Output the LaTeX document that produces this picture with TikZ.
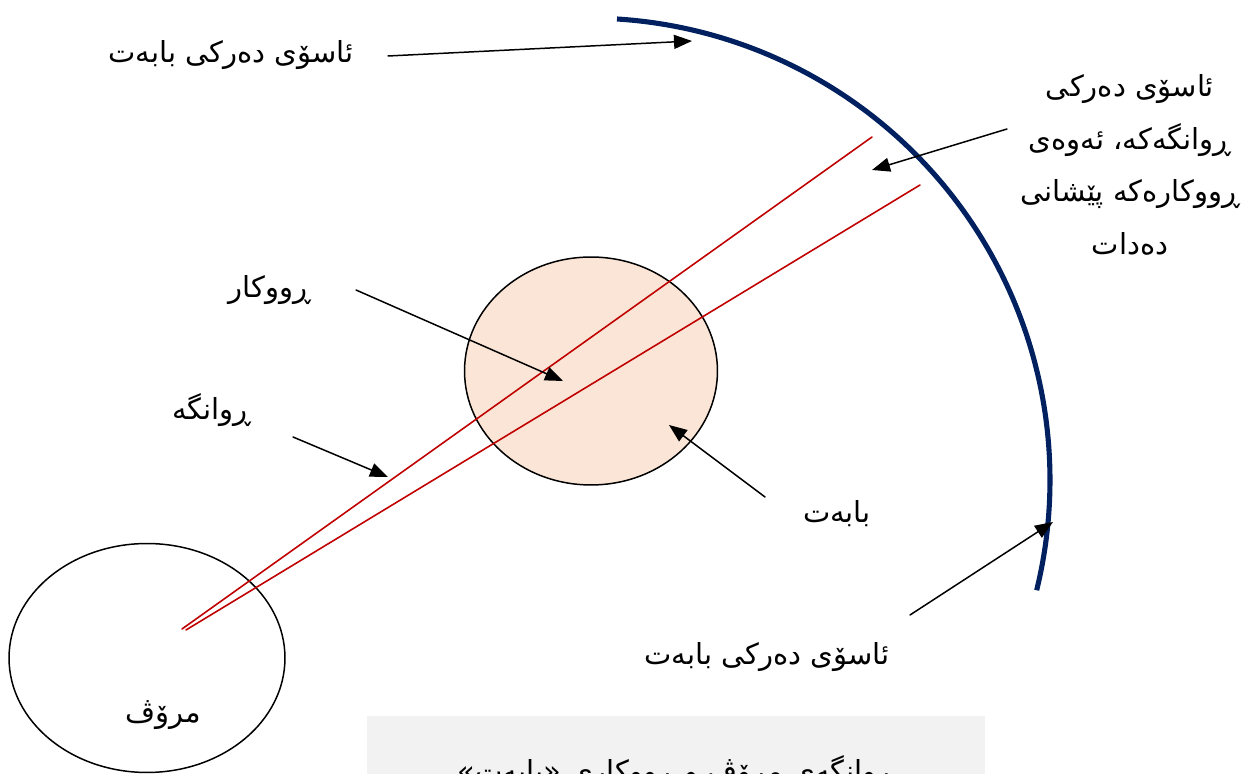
\documentclass[tikz,border=0pt]{standalone}
\usepackage{fontspec}
\usepackage{xcolor}
\newfontfamily\kufont[Script=Arabic]{DejaVu Sans}
\usetikzlibrary{arrows.meta,shapes.geometric}
\TeXXeTstate=1
\definecolor{navyarc}{RGB}{0,32,96}
\definecolor{raydark}{RGB}{192,0,0}
\definecolor{peach}{RGB}{251,229,214}
\definecolor{capgray}{RGB}{242,242,242}
\newcommand{\ku}[1]{\beginR #1\endR}

\begin{document}
\begin{tikzpicture}[x=0.02cm,y=0.02cm,line cap=round,
  lbl/.style={font=\kufont\fontsize{16.5}{30}\selectfont,inner sep=0pt,align=center},
  pointer/.style={-{Triangle[length=0.36cm,width=0.28cm]},line width=0.85pt},
  ray/.style={raydark,line width=0.9pt}]
  \clip (0,0) rectangle (1245,774);
  % caption strip
  \fill[capgray] (367,0) rectangle (985,58);
  \node[lbl] (caption) at (676,2) {\ku{^^^^0695وانگەی مرۆڤ و ^^^^0695ووکاری «بابەت»}};
  % object and human
  \node[ellipse,draw,fill=peach,line width=0.85pt,minimum width=5.06cm,minimum height=4.56cm] (object) at (591,403) {};
  \node[ellipse,draw,line width=0.85pt,minimum width=5.52cm,minimum height=4.58cm] (human) at (147,116) {};
  % horizon arc
  \draw[navyarc,line width=2.9pt,line cap=butt] (617,755) arc[start angle=86.4,end angle=-13.8,radius=462];
  % rays
  \coordinate (eyeA) at (182,145);
  \coordinate (eyeB) at (186,144);
  \coordinate (rayA) at (872,637);
  \coordinate (rayB) at (920,589);
  \draw[ray] (eyeA) -- (rayA);
  \draw[ray] (eyeB) -- (rayB);
  % labels
  \node[lbl] (outer) at (231,719) {\ku{ئاسۆی دەرکی بابەت}};
  \node[lbl] (view) at (1130,609) {\ku{ئاسۆی دەرکی}\\\ku{^^^^0695وانگەکە، ئەوەی}\\\ku{^^^^0695ووکارەکە پێشانی}\\\ku{دەدات}};
  \node[lbl] (surface) at (270,484) {\ku{^^^^0695ووکار}};
  \node[lbl] (sight) at (212,364) {\ku{^^^^0695وانگە}};
  \node[lbl] (thing) at (837,260) {\ku{بابەت}};
  \node[lbl] (outerB) at (767,117) {\ku{ئاسۆی دەرکی بابەت}};
  \node[lbl] (man) at (163,59) {\ku{مرۆڤ}};
  % arrows
  \coordinate (pA) at (388,718); \coordinate (tA) at (692,733);
  \coordinate (pB) at (1007,645); \coordinate (tB) at (872,604);
  \coordinate (pC) at (356,484); \coordinate (tC) at (563,393);
  \coordinate (pD) at (293,337); \coordinate (tD) at (388,297);
  \coordinate (pE) at (765,277); \coordinate (tE) at (669,349);
  \coordinate (pF) at (910,159); \coordinate (tF) at (1053,252);
  \draw[pointer] (pA) -- (tA);
  \draw[pointer] (pB) -- (tB);
  \draw[pointer] (pC) -- (tC);
  \draw[pointer] (pD) -- (tD);
  \draw[pointer] (pE) -- (tE);
  \draw[pointer] (pF) -- (tF);
\end{tikzpicture}
\end{document}
